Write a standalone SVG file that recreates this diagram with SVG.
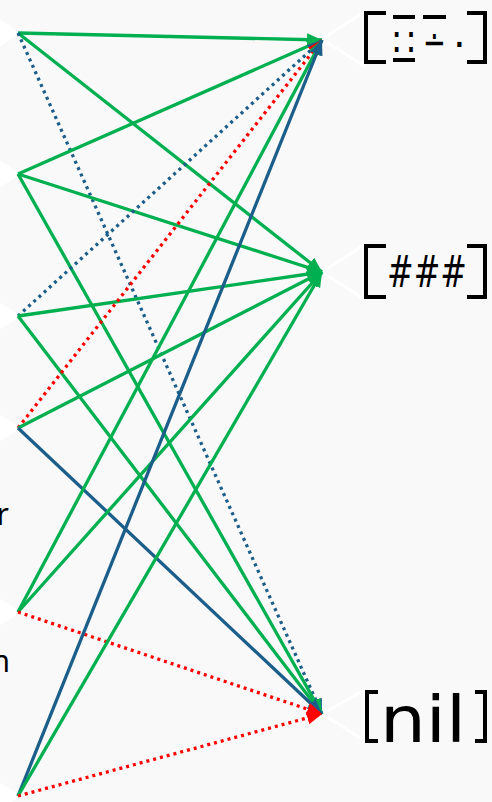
<svg xmlns="http://www.w3.org/2000/svg" width="492" height="802" viewBox="0 0 492 802">
<defs>
<style>
.bg{fill:#f9f9f9}
.port{fill:none;stroke:#ffffff;stroke-width:3}
.lport{fill:#ffffff;stroke:#ffffff;stroke-width:3}
.br{fill:none;stroke:#000000;stroke-width:4}
.lbl{font-family:"DejaVu Sans",sans-serif;fill:#000000}
.side{font-family:"Noto Sans","Open Sans",sans-serif;font-size:30px;fill:#000000}
.e{fill:none;stroke-width:3.3}
.g{stroke:#00b050;marker-end:url(#ag)}
.b{stroke:#1b5e8a;marker-end:url(#ab)}
.bd{stroke:#1b5e8a;stroke-dasharray:3 4;marker-end:url(#ab)}
.rd{stroke:#ff0000;stroke-dasharray:3 4;marker-end:url(#ar)}
</style>
<marker id="ag" markerUnits="userSpaceOnUse" markerWidth="16" markerHeight="14" refX="15" refY="6.5" orient="auto"><path d="M0,0 L15,6.5 L0,13 z" fill="#00b050"/></marker>
<marker id="ab" markerUnits="userSpaceOnUse" markerWidth="16" markerHeight="14" refX="15" refY="6.5" orient="auto"><path d="M0,0 L15,6.5 L0,13 z" fill="#1b5e8a"/></marker>
<marker id="ar" markerUnits="userSpaceOnUse" markerWidth="16" markerHeight="14" refX="15" refY="6.5" orient="auto"><path d="M0,0 L15,6.5 L0,13 z" fill="#ff0000"/></marker>
</defs>
<rect class="bg" x="0" y="0" width="492" height="802"/>

<g id="src1"><polygon class="lport" points="18,33 -24,6 -24,60"/></g>
<g id="src2"><polygon class="lport" points="18,174 -24,147 -24,201"/></g>
<g id="src3"><polygon class="lport" points="18,316 -24,289 -24,343"/></g>
<g id="src4"><polygon class="lport" points="18,428 -24,401 -24,455"/><text class="side" x="9" y="525" text-anchor="end">r</text></g>
<g id="src5"><polygon class="lport" points="18,612 -24,585 -24,639"/><text class="side" x="10" y="672" text-anchor="end">n</text></g>
<g id="src6"><polygon class="lport" points="18,796 -24,769 -24,823"/></g>

<g id="dst1">
<polygon class="port" points="322,39 364,12 364,66"/>
<path class="br" d="M386,13 H366 V62 H386 M467,13 H485 V62 H467"/>
<text class="lbl" x="393" y="56" font-size="40" textLength="22" lengthAdjust="spacingAndGlyphs" style="text-decoration:overline underline">∷</text>
<text class="lbl" x="423" y="56" font-size="40" textLength="23" lengthAdjust="spacingAndGlyphs" style="text-decoration:overline">∸</text>
<text class="lbl" x="453" y="47" font-size="40">.</text>
</g>
<g id="dst2">
<polygon class="port" points="322,272 364,245 364,299"/>
<path class="br" d="M386,246 H366 V297 H386 M467,246 H485 V297 H467"/>
<text class="lbl" x="387" y="287" font-size="45" textLength="80" lengthAdjust="spacingAndGlyphs">###</text>
</g>
<g id="dst3">
<polygon class="port" points="322,714 364,690 364,740"/>
<path class="br" d="M378,692 H367 V741 H378 M475,692 H485 V741 H475"/>
<text class="lbl" x="380" y="742" font-size="64" textLength="86" lengthAdjust="spacingAndGlyphs">nil</text>
</g>

<g id="connectors">
<line class="e g" x1="18" y1="33" x2="322" y2="40"/>
<line class="e g" x1="18" y1="33" x2="322" y2="272"/>
<line class="e bd" x1="18" y1="33" x2="322" y2="714"/>
<line class="e g" x1="18" y1="174" x2="322" y2="40"/>
<line class="e g" x1="18" y1="174" x2="322" y2="272"/>
<line class="e g" x1="18" y1="174" x2="322" y2="714"/>
<line class="e bd" x1="18" y1="316" x2="322" y2="40"/>
<line class="e g" x1="18" y1="316" x2="322" y2="272"/>
<line class="e g" x1="18" y1="316" x2="322" y2="714"/>
<line class="e rd" x1="18" y1="428" x2="322" y2="40"/>
<line class="e g" x1="18" y1="428" x2="322" y2="272"/>
<line class="e b" x1="18" y1="428" x2="322" y2="714"/>
<line class="e g" x1="18" y1="612" x2="322" y2="40"/>
<line class="e g" x1="18" y1="612" x2="322" y2="272"/>
<line class="e rd" x1="18" y1="612" x2="322" y2="714"/>
<line class="e b" x1="18" y1="796" x2="322" y2="40"/>
<line class="e g" x1="18" y1="796" x2="322" y2="272"/>
<line class="e rd" x1="18" y1="796" x2="322" y2="714"/>
</g>
</svg>
